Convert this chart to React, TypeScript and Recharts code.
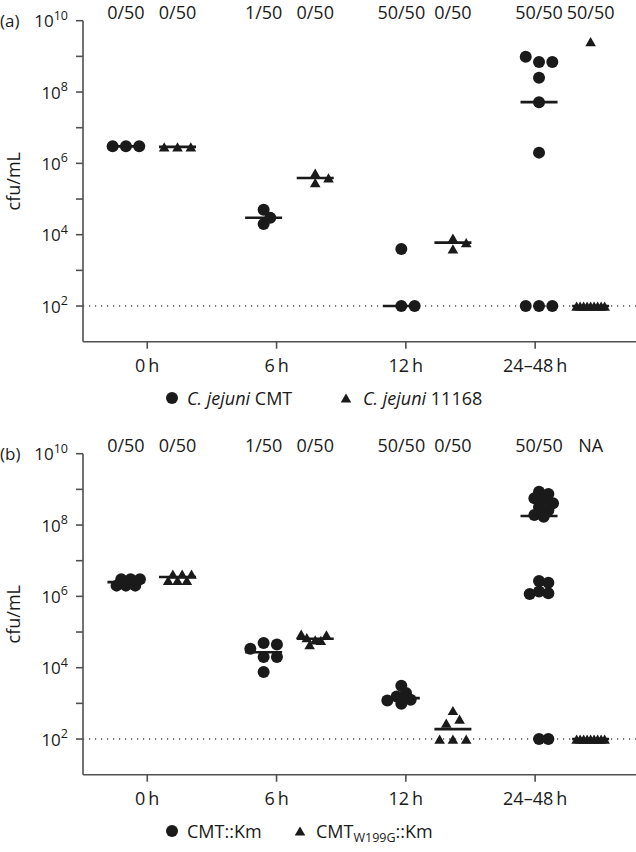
import React from "react";
import { ScatterChart, Scatter, XAxis, YAxis, ReferenceLine } from "recharts";

// time points on the x axis
const timeLabels = ["0\u2009h", "6\u2009h", "12\u2009h", "24–48\u2009h"];

// (a) cfu/mL per animal, one list per time point
const cmtA = [
  [3e6, 3e6, 3e6],
  [5e4, 2e4, 3e4],
  [4e3, 100, 100],
  [7e8, 7e8, 9.8e8, 2.5e8, 5.2e7, 2e6, 100, 100, 100],
];
const nctcA = [
  [2.9e6, 2.9e6, 2.9e6],
  [2.9e5, 5.3e5, 3.9e5],
  [8e3, 4e3, 6e3],
  [2.6e9, 100, 100, 100, 100, 100, 100, 100, 100, 100],
];
const countsA = ["0/50", "0/50", "1/50", "0/50", "50/50", "0/50", "50/50", "50/50"];

// (b)
const cmtKm = [
  [2e6, 2e6, 2e6, 3e6, 3e6, 3e6],
  [4.9e4, 2e4, 2e4, 7.6e3, 4.5e4, 3.4e4],
  [3.1e3, 1.95e3, 1.55e3, 1.26e3, 1.2e3, 9.8e2],
  [
    8.6e8, 7.4e8, 5.6e8, 5e8, 4.1e8, 3.2e8, 2.6e8, 1.9e8, 1.7e8,
    2.7e6, 2.4e6, 1.36e6, 1.23e6, 1.17e6,
    100, 100,
  ],
];
const w199gKm = [
  [2.8e6, 2.8e6, 2.8e6, 4.2e6, 4.2e6, 4.2e6],
  [6e4, 5.8e4, 4.4e4, 7e4, 8.3e4, 8.7e4],
  [630, 360, 280, 100, 100, 100],
  [100, 100, 100, 100, 100, 100, 100, 100, 100],
];
const countsB = ["0/50", "0/50", "1/50", "0/50", "50/50", "0/50", "50/50", "NA"];

const yTicks = [1e2, 1e3, 1e4, 1e5, 1e6, 1e7, 1e8, 1e9, 1e10];
const LOD = 100;

// layout
const W = 636;
const PANEL_H = 433;
const PLOT_LEFT = 83;
const PLOT_TOP = 20.7;
const PLOT_BOTTOM = 341.7;
const X_DOMAIN: [number, number] = [-0.497, 3.78];
const PX_PER_UNIT = (W - PLOT_LEFT) / (X_DOMAIN[1] - X_DOMAIN[0]);
const PX_PER_DECADE = (PLOT_BOTTOM - PLOT_TOP) / 9;
const INK = "#1a1a1a";
const AXIS = "#505050";
const FONT = "'Open Sans', 'Noto Sans', sans-serif";

// the dot columns sit a little off their ticks in the original figure
const GROUP_SPACING = 1.065;
const SERIES_OFFSET = [-0.165, 0.234];
const groupCenter = (t: number, s: number) => t * GROUP_SPACING + SERIES_OFFSET[s];

// prism-style spreading of points with close values
const STEP = 13.3;
const MIN_DIST = 9;
const MAX_HALF = 14;

function swarm(values: number[], center: number) {
  const cands = [0];
  for (let k = 1; k < 30; k++) cands.push(k * 0.5, -k * 0.5);
  const placed: { dx: number; py: number; v: number }[] = [];
  values.forEach((v) => {
    const py = -Math.log10(v) * PX_PER_DECADE;
    for (const c of cands) {
      const dx = c * STEP;
      if (placed.every((p) => Math.hypot(p.dx - dx, p.py - py) >= MIN_DIST)) {
        placed.push({ dx, py, v });
        break;
      }
    }
  });
  const maxAbs = Math.max(...placed.map((p) => Math.abs(p.dx)));
  const k = maxAbs > MAX_HALF ? MAX_HALF / maxAbs : 1;
  return placed.map((p) => ({ x: center + (p.dx * k) / PX_PER_UNIT, y: p.v }));
}

function median(values: number[]) {
  const s = [...values].sort((a, b) => a - b);
  const m = Math.floor(s.length / 2);
  return s.length % 2 ? s[m] : (s[m - 1] + s[m]) / 2;
}

function buildSeries(groups: number[][], s: number) {
  return {
    points: groups.flatMap((vals, t) => swarm(vals, groupCenter(t, s))),
    medians: groups.map((vals, t) => ({ x: groupCenter(t, s), y: median(vals) })),
  };
}

const Dot = ({ cx, cy }: any) => <circle cx={cx} cy={cy} r={6} fill={INK} />;
const Tri = ({ cx, cy }: any) => (
  <path d={`M${cx},${cy - 4.6}L${cx + 5.3},${cy + 4.6}L${cx - 5.3},${cy + 4.6}Z`} fill={INK} />
);
const MedianBar = ({ cx, cy }: any) => (
  <line x1={cx - 18.5} x2={cx + 18.5} y1={cy} y2={cy} stroke={INK} strokeWidth={2.6} />
);

function YTick({ x, y, payload, tag }: any) {
  const exp = Math.round(Math.log10(payload.value));
  if (exp % 2) return null;
  return (
    <g>
      {exp === 10 && (
        <text x={0} y={y + 6.5} fontSize={17} fill={INK}>
          {tag}
        </text>
      )}
      <text x={x - 8} y={y + 6.5} textAnchor="end" fontSize={17} fill={INK}>
        <tspan>10</tspan>
        <tspan dy={-7.5} fontSize={12.5}>
          {exp}
        </tspan>
      </text>
    </g>
  );
}

function Panel({ tag, circles, triangles, counts, legend }: any) {
  const c = buildSeries(circles, 0);
  const t = buildSeries(triangles, 1);
  const headerTicks = counts.map((_: string, i: number) => groupCenter(Math.floor(i / 2), i % 2));
  const legendY = 398.3;
  return (
    <div style={{ position: "relative", width: W, height: PANEL_H, fontFamily: FONT }}>
      <ScatterChart width={W} height={PANEL_H} margin={{ top: 0, right: 0, bottom: 0, left: 0 }}>
        <XAxis
          xAxisId="top"
          orientation="top"
          type="number"
          dataKey="x"
          domain={X_DOMAIN}
          allowDataOverflow
          ticks={headerTicks}
          interval={0}
          tickFormatter={(v: number) =>
            counts[headerTicks.findIndex((h: number) => Math.abs(h - v) < 1e-9)]
          }
          height={PLOT_TOP}
          axisLine={false}
          tickLine={false}
          tickSize={0}
          tickMargin={1.5}
          tick={{ fontSize: 18, fill: INK }}
        />
        <XAxis
          xAxisId="bottom"
          type="number"
          dataKey="x"
          domain={X_DOMAIN}
          allowDataOverflow
          ticks={[0, 1, 2, 3]}
          interval={0}
          tickFormatter={(v: number) => timeLabels[v]}
          height={PANEL_H - PLOT_BOTTOM}
          tickSize={7}
          tickMargin={11}
          axisLine={{ stroke: AXIS, strokeWidth: 1.6 }}
          tickLine={{ stroke: AXIS, strokeWidth: 1.6 }}
          tick={{ fontSize: 18, fill: INK }}
        />
        <YAxis
          type="number"
          dataKey="y"
          scale="log"
          domain={[10, 1e10]}
          allowDataOverflow
          ticks={yTicks}
          interval={0}
          width={PLOT_LEFT}
          tickSize={7}
          tickMargin={0}
          axisLine={{ stroke: AXIS, strokeWidth: 1.6 }}
          tickLine={{ stroke: AXIS, strokeWidth: 1.6 }}
          tick={<YTick tag={tag} />}
          label={{
            content: () => (
              <text
                x={13}
                y={(PLOT_TOP + PLOT_BOTTOM) / 2}
                transform={`rotate(-90 13 ${(PLOT_TOP + PLOT_BOTTOM) / 2})`}
                textAnchor="middle"
                dominantBaseline="central"
                fontSize={18}
                fill={INK}
              >
                cfu/mL
              </text>
            ),
          }}
        />
        <ReferenceLine
          xAxisId="bottom"
          y={LOD}
          stroke={AXIS}
          strokeWidth={1.4}
          strokeDasharray="1.2 4.8"
        />
        <Scatter xAxisId="bottom" data={c.medians} shape={MedianBar} isAnimationActive={false} />
        <Scatter xAxisId="bottom" data={t.medians} shape={MedianBar} isAnimationActive={false} />
        <Scatter xAxisId="bottom" data={c.points} shape={Dot} isAnimationActive={false} />
        <Scatter xAxisId="bottom" data={t.points} shape={Tri} isAnimationActive={false} />
      </ScatterChart>
      {legend.map((item: any, i: number) => (
        <React.Fragment key={i}>
          <svg
            width={14}
            height={14}
            style={{ position: "absolute", left: item.mark - 7, top: legendY - 7 }}
          >
            {i === 0 ? <Dot cx={7} cy={7} /> : <Tri cx={7} cy={7} />}
          </svg>
          <span
            style={{
              position: "absolute",
              left: item.text,
              top: legendY - 12.5,
              lineHeight: "25px",
              fontSize: 18,
              color: INK,
              whiteSpace: "nowrap",
            }}
          >
            {item.label}
          </span>
        </React.Fragment>
      ))}
    </div>
  );
}

export default function App() {
  return (
    <div
      style={{
        position: "absolute",
        left: 0,
        top: 0,
        width: W,
        height: 852,
        overflow: "hidden",
        background: "#fff",
      }}
    >
      <Panel
        tag="(a)"
        circles={cmtA}
        triangles={nctcA}
        counts={countsA}
        legend={[
          { mark: 171.7, text: 187, label: <><i>C. jejuni</i> CMT</> },
          { mark: 345.7, text: 363, label: <><i>C. jejuni</i> 11168</> },
        ]}
      />
      <Panel
        tag="(b)"
        circles={cmtKm}
        triangles={w199gKm}
        counts={countsB}
        legend={[
          { mark: 172, text: 187, label: <>CMT::Km</> },
          {
            mark: 300,
            text: 316,
            label: (
              <>
                CMT<sub style={{ fontSize: 12.5, verticalAlign: "-4px" }}>W199G</sub>::Km
              </>
            ),
          },
        ]}
      />
    </div>
  );
}
